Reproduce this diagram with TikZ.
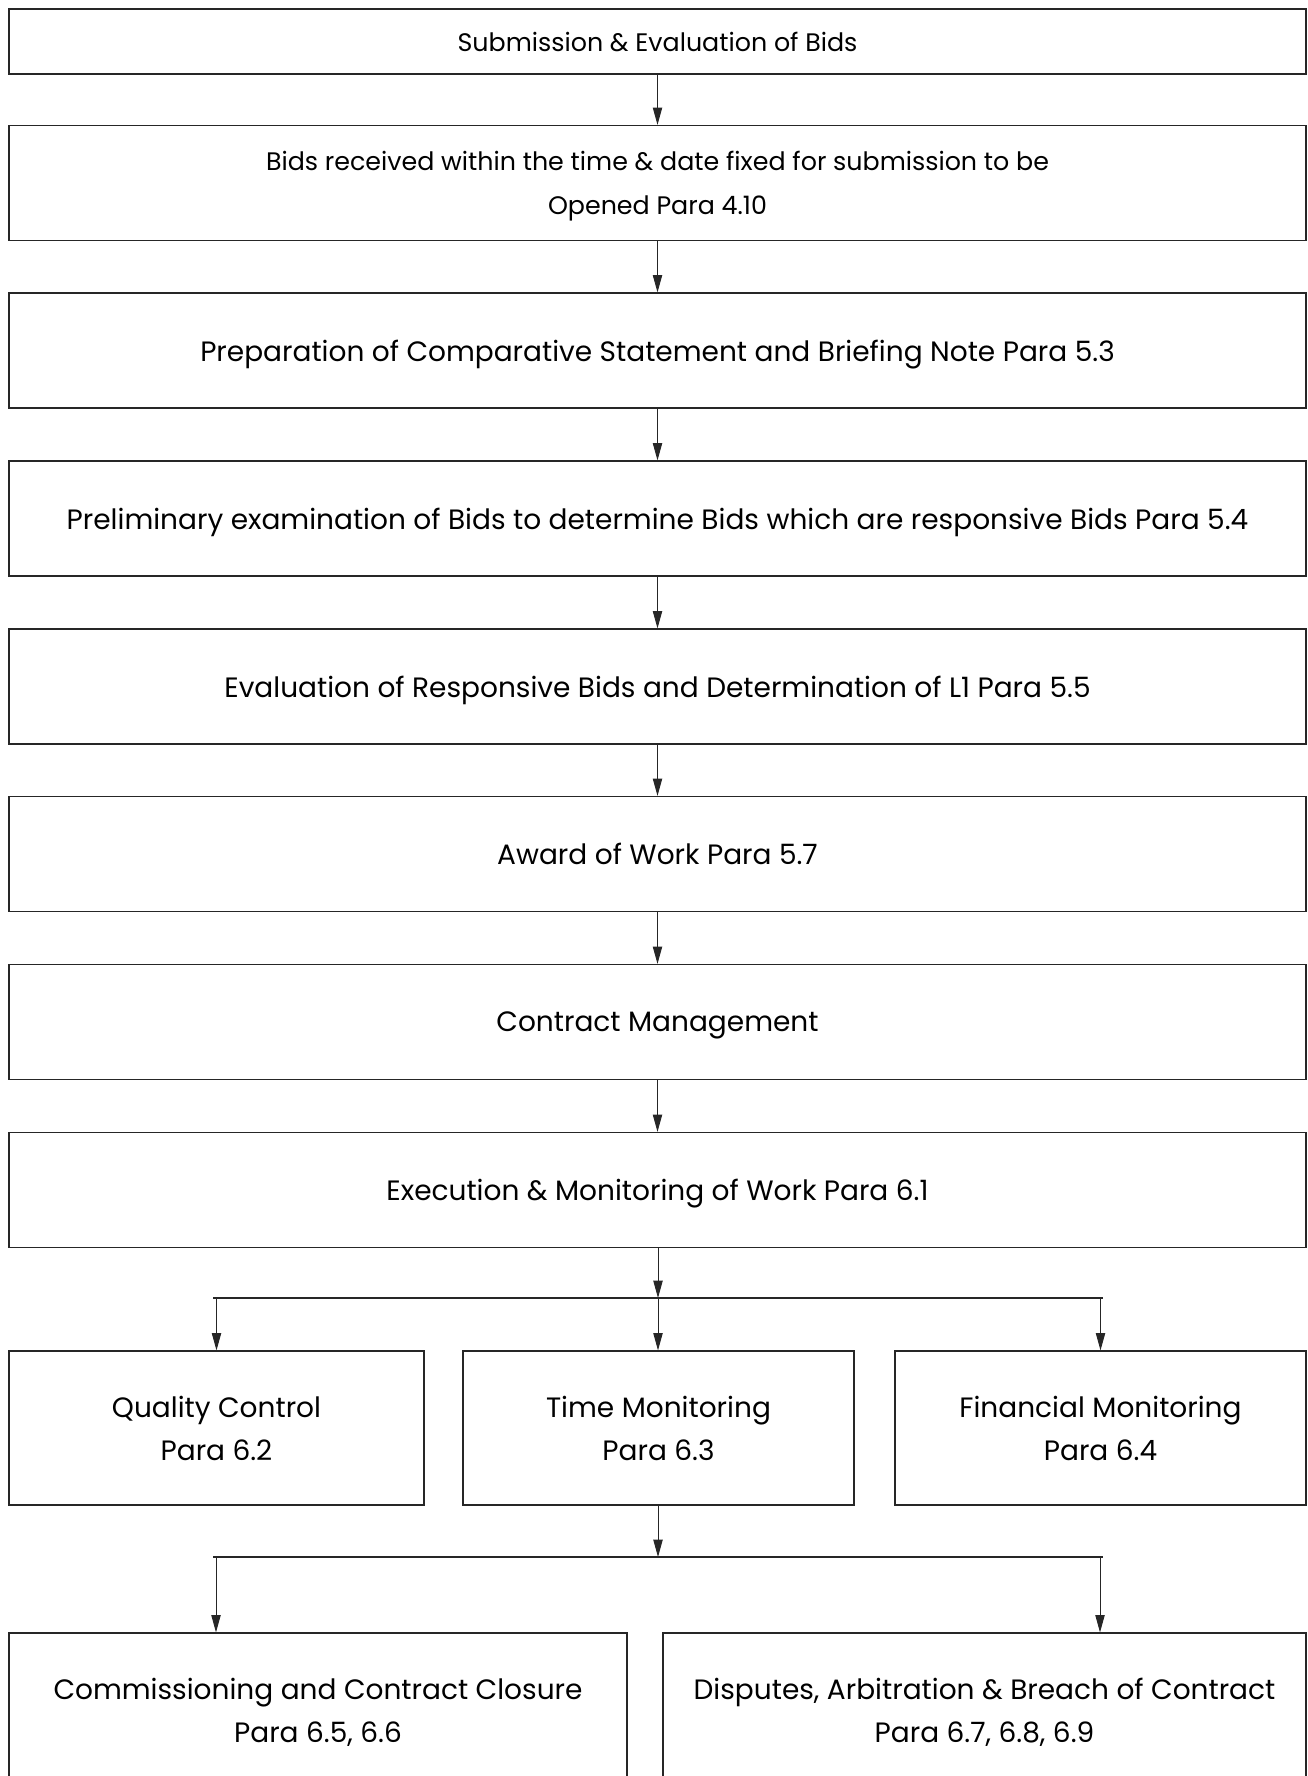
\documentclass[tikz,border=0pt]{standalone}
\usepackage{fontspec}
\setmainfont{Poppins}
\usetikzlibrary{arrows.meta}
\begin{document}
\begin{tikzpicture}[x=0.75pt,y=-0.75pt,
  box/.style={draw=black!85,line width=0.9pt,rectangle,inner sep=0pt,align=center,text depth=0pt,font=\fontsize{21}{32}\selectfont},
  mainbox/.style={box,minimum width=972.75pt,minimum height=86.25pt},
  smallfont/.style={font=\fontsize{19}{33}\selectfont},
  arr/.style={draw=black!85,line width=0.7pt,-{Triangle[length=13pt,width=7pt]}},
  ln/.style={draw=black!85,line width=0.9pt}]
\useasboundingbox (0,0) rectangle (1308,1776);
\node[box,smallfont,minimum width=972.75pt,minimum height=48.75pt] (b1) at (657.5,41.5) {Submission \& Evaluation of Bids};
\node[mainbox,smallfont] (b2) at (657.5,183) {Bids received within the time \& date fixed for submission to be\\Opened Para 4.10};
\node[mainbox] (b3) at (657.5,350.5) {Preparation of Comparative Statement and Briefing Note Para 5.3};
\node[mainbox] (b4) at (657.5,518.5) {Preliminary examination of Bids to determine Bids which are responsive Bids Para 5.4};
\node[mainbox] (b5) at (657.5,686.5) {Evaluation of Responsive Bids and Determination of L1 Para 5.5};
\node[mainbox] (b6) at (657.5,854) {Award of Work Para 5.7};
\node[mainbox] (b7) at (657.5,1022) {Contract Management};
\node[mainbox] (b8) at (657.5,1190) {Execution \& Monitoring of Work Para 6.1};
\node[box,minimum width=311.25pt,minimum height=115.5pt] (qc) at (216.5,1428) {Quality Control\\Para 6.2};
\node[box,minimum width=293.25pt,minimum height=115.5pt] (tm) at (658.5,1428) {Time Monitoring\\Para 6.3};
\node[box,minimum width=308.25pt,minimum height=115.5pt] (fm) at (1100.5,1428) {Financial Monitoring\\Para 6.4};
\node[box,minimum width=463.5pt,minimum height=115.5pt] (cc) at (318,1710) {Commissioning and Contract Closure\\Para 6.5, 6.6};
\node[box,minimum width=482.25pt,minimum height=115.5pt] (da) at (984.5,1710) {Disputes, Arbitration \& Breach of Contract\\Para 6.7, 6.8, 6.9};
\draw[arr] (b1) -- (b2);
\draw[arr] (b2) -- (b3);
\draw[arr] (b3) -- (b4);
\draw[arr] (b4) -- (b5);
\draw[arr] (b5) -- (b6);
\draw[arr] (b6) -- (b7);
\draw[arr] (b7) -- (b8);
\coordinate (s1) at (658,1298);
\coordinate (s1l) at (213,1298);
\coordinate (s1r) at (1103,1298);
\draw[arr] (b8.south -| s1) -- (s1);
\draw[ln] (s1l) -- (s1r);
\draw[arr] (s1 -| qc.north) -- (qc.north);
\draw[arr] (s1) -- (s1 |- tm.north);
\draw[arr] (s1 -| fm.north) -- (fm.north);
\coordinate (s2) at (658,1557);
\coordinate (s2l) at (213,1557);
\coordinate (s2r) at (1103,1557);
\coordinate (a2l) at (216,1557);
\coordinate (a2r) at (1100,1557);
\draw[arr] (tm.south -| s2) -- (s2);
\draw[ln] (s2l) -- (s2r);
\draw[arr] (a2l) -- (a2l |- cc.north);
\draw[arr] (a2r) -- (a2r |- da.north);
\end{tikzpicture}
\end{document}
